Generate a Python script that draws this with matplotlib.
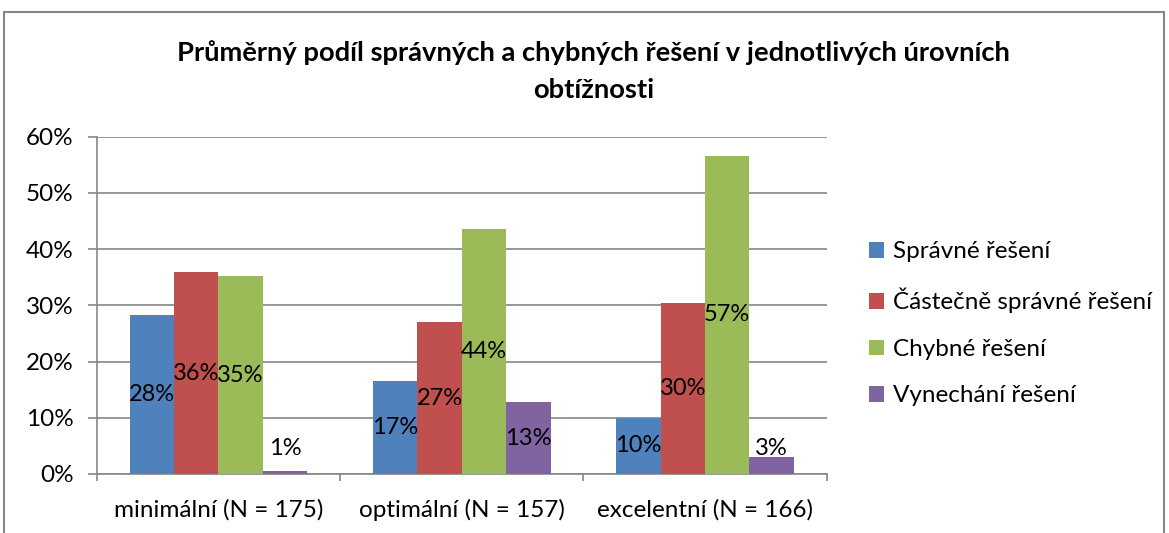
import numpy as np
import matplotlib
matplotlib.use("Agg")
import matplotlib.pyplot as plt
from matplotlib.patches import Rectangle

plt.rcParams['font.family'] = ['Lato', 'DejaVu Sans']

# data
categories = ['minimální (N = 175)', 'optimální (N = 157)', 'excelentní (N = 166)']
series_names = ['Správné řešení', 'Částečně správné řešení', 'Chybné řešení', 'Vynechání řešení']
spravne = [0.282, 0.166, 0.100]
castecne = [0.359, 0.270, 0.304]
chybne = [0.352, 0.436, 0.566]
vynechani = [0.006, 0.128, 0.030]
colors = ['#4F81BD', '#C0504D', '#9BBB59', '#8064A2']
yticks = [0, 0.1, 0.2, 0.3, 0.4, 0.5, 0.6]

fig = plt.figure(figsize=(11.69, 5.33), dpi=100)
# outer chart border (extends below image bottom)
fig.patches.append(Rectangle((4 / 1169, -0.05), 1160 / 1169, 1 - 12 / 533 + 0.05,
                             transform=fig.transFigure, fill=False,
                             edgecolor='#868686', linewidth=1.5))

ax = fig.add_axes([0.0827, 0.1107, 0.6245, 0.6328])

series = [spravne, castecne, chybne, vynechani]
x = np.arange(len(categories))
bw = 0.73 / 4
for i, (vals, name, c) in enumerate(zip(series, series_names, colors)):
    xs = x - 0.365 + bw * (i + 0.5)
    ax.bar(xs, vals, width=bw, color=c, label=name, zorder=3)
    for xx, v in zip(xs, vals):
        ax.text(xx, max(v / 2, 0.046), f"{v * 100:.0f}%", ha='center', va='center',
                fontsize=17, color='black', zorder=4)

ax.set_xlim(-0.5, len(categories) - 0.5)
ax.set_ylim(0, 0.6)
ax.set_yticks(yticks)
ax.set_yticklabels([f"{int(round(t * 100))}%" for t in yticks], fontsize=17.5)
ax.yaxis.grid(True, color='#868686', linewidth=1.2, zorder=0)
ax.set_axisbelow(True)

ax.set_xticks(x)
ax.set_xticklabels(categories, fontsize=17.5)
ax.set_xticks(np.arange(-0.5, len(categories)), minor=True)
ax.tick_params(axis='x', which='major', length=0, pad=18)
ax.tick_params(axis='x', which='minor', length=5, color='#868686', width=1.2)
ax.tick_params(axis='y', length=6.5, color='#868686', width=1.2, pad=10)

for s in ['top', 'right']:
    ax.spines[s].set_visible(False)
for s in ['left', 'bottom']:
    ax.spines[s].set_color('#868686')
    ax.spines[s].set_linewidth(1.2)

fig.text(0.508, 0.902, 'Průměrný podíl správných a chybných řešení v jednotlivých úrovních',
         ha='center', va='center', fontsize=19.7, fontweight='bold')
fig.text(0.508, 0.831, 'obtížnosti', ha='center', va='center', fontsize=19.7, fontweight='bold')

ax.legend(loc='center left', bbox_to_anchor=(1.058, 0.445), frameon=False, fontsize=17.5,
          handlelength=0.6, handleheight=0.6, handletextpad=0.4, labelspacing=1.05,
          borderaxespad=0, borderpad=0)

fig.savefig('out.png', dpi=100)
